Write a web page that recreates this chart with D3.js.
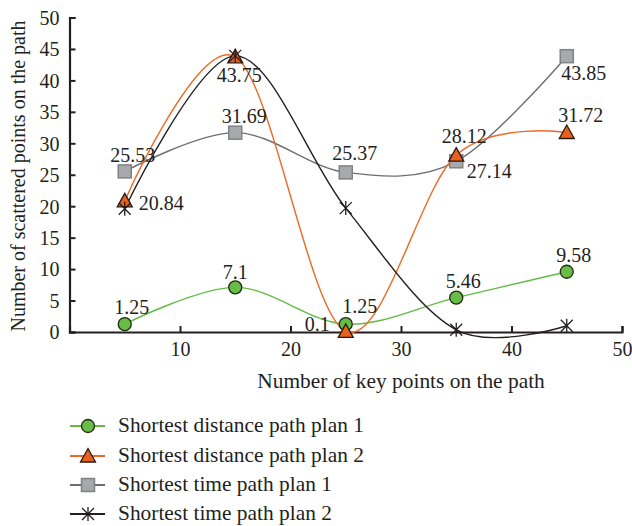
<!DOCTYPE html>
<html>
<head>
<meta charset="utf-8">
<script src="https://cdn.jsdelivr.net/npm/d3@7/dist/d3.min.js"></script>
<style>
  html, body { margin: 0; padding: 0; background: #fff; }
  svg { display: block; }
  text { font-family: "Liberation Serif", "Times New Roman", serif; fill: #231f20; }
</style>
</head>
<body>
<svg id="chart" width="632" height="526"></svg>
<script>
// Key-point counts along the x axis
const keyPoints = [5, 15, 25, 35, 45];

// Scattered points per plan
const distancePlan1 = [1.25, 7.1, 1.25, 5.46, 9.58];
const distancePlan2 = [20.84, 43.75, 0.1, 28.12, 31.72];
const timePlan1 = [25.53, 31.69, 25.37, 27.14, 43.85];
const timePlan2 = [19.6, 43.9, 19.7, 0.35, 1.0];

const seriesNames = [
  "Shortest distance path plan 1",
  "Shortest distance path plan 2",
  "Shortest time path plan 1",
  "Shortest time path plan 2"
];

const xTicks = [10, 20, 30, 40, 50];
const yTicks = [0, 5, 10, 15, 20, 25, 30, 35, 40, 45, 50];

// Which data points carry a value label, and where it sits: [dx, dy, anchor]
const labelPlacement = [
  [[7, -10, "middle"], [0, -8, "middle"], [14, -11, "middle"], [7, -10, "middle"], [7, -10, "middle"]],
  [[14, 9, "start"], [4, 25, "middle"], [-16, 0, "end"], [8, -12, "middle"], [14, -10, "middle"]],
  [[8, -9, "middle"], [9, -10, "middle"], [9, -12, "middle"], [33, 17, "middle"], [17, 24, "middle"]],
  null
];

const styles = [
  { line: "#62bb46", fill: "#67bd45", stroke: "#1f2a12", marker: "circle" },
  { line: "#ec6a26", fill: "#e8601c", stroke: "#2a1a10", marker: "triangle" },
  { line: "#6d6e71", fill: "#a7a9ac", stroke: "#808285", marker: "square" },
  { line: "#231f20", fill: "none", stroke: "#231f20", marker: "star" }
];

const allSeries = [distancePlan1, distancePlan2, timePlan1, timePlan2];

const svg = d3.select("#chart");
const x = d3.scaleLinear().domain([0, 50]).range([69.5, 622]);
const y = d3.scaleLinear().domain([0, 50]).range([332, 17.5]);

const numSize = 20;
const titleSize = 21.4;

// Axes
const xAxis = d3.axisBottom(x).tickValues(xTicks).tickSize(-6).tickPadding(10).tickFormat(d3.format("d"));
const yAxis = d3.axisLeft(y).tickValues(yTicks).tickSize(-6).tickPadding(10).tickFormat(d3.format("d"));

const gx = svg.append("g").attr("transform", `translate(0,${y(0)})`).call(xAxis);
const gy = svg.append("g").attr("transform", `translate(${x(0)},0)`).call(yAxis);
[gx, gy].forEach(g => {
  g.select(".domain").attr("stroke", "#231f20").attr("stroke-width", 2.2);
  g.selectAll(".tick line").attr("stroke", "#231f20").attr("stroke-width", 2);
  g.selectAll(".tick text").attr("font-size", numSize).attr("fill", "#231f20")
    .attr("font-family", "'Liberation Serif', serif");
});
gx.selectAll(".tick text").attr("dy", "0.71em");
gy.selectAll(".tick text").attr("dy", "0.34em");

// Axis titles
svg.append("text")
  .attr("x", 401).attr("y", 388)
  .attr("text-anchor", "middle")
  .attr("font-size", titleSize)
  .text("Number of key points on the path");

svg.append("text")
  .attr("transform", "translate(25,176) rotate(-90)")
  .attr("text-anchor", "middle")
  .attr("font-size", 20)
  .text("Number of scattered points on the path");

// Marker drawing helpers
function drawMarker(g, kind, cx, cy, st) {
  if (kind === "circle") {
    g.append("circle").attr("cx", cx).attr("cy", cy).attr("r", 6.5)
      .attr("fill", st.fill).attr("stroke", st.stroke).attr("stroke-width", 1.3);
  } else if (kind === "triangle") {
    const s = 7.5;
    g.append("path")
      .attr("d", `M${cx},${cy - s}L${cx + s},${cy + s * 0.8}L${cx - s},${cy + s * 0.8}Z`)
      .attr("fill", st.fill).attr("stroke", st.stroke).attr("stroke-width", 1.3);
  } else if (kind === "square") {
    g.append("rect").attr("x", cx - 6.5).attr("y", cy - 6.5).attr("width", 13).attr("height", 13)
      .attr("fill", st.fill).attr("stroke", st.stroke).attr("stroke-width", 1.5);
  } else if (kind === "star") {
    const r = 6;
    g.append("path")
      .attr("d", `M${cx - r},${cy - r}L${cx + r},${cy + r}M${cx - r},${cy + r}L${cx + r},${cy - r}M${cx},${cy - r - 1}L${cx},${cy + r + 1}`)
      .attr("stroke", st.stroke).attr("stroke-width", 1.3).attr("fill", "none");
  }
}

const line = d3.line()
  .x(d => x(d[0]))
  .y(d => y(d[1]))
  .curve(d3.curveCatmullRom.alpha(0));

// Lines first (order so that black and orange sit on top)
const drawOrder = [0, 2, 1, 3];
drawOrder.forEach(i => {
  const pts = keyPoints.map((k, j) => [k, allSeries[i][j]]);
  svg.append("path")
    .datum(pts)
    .attr("d", line)
    .attr("fill", "none")
    .attr("stroke", styles[i].line)
    .attr("stroke-width", 1.4);
});

// Markers
drawOrder.forEach(i => {
  const g = svg.append("g");
  keyPoints.forEach((k, j) => drawMarker(g, styles[i].marker, x(k), y(allSeries[i][j]), styles[i]));
});

// Value labels
allSeries.forEach((vals, i) => {
  const place = labelPlacement[i];
  if (!place) return;
  keyPoints.forEach((k, j) => {
    const [dx, dy, anchor] = place[j];
    svg.append("text")
      .attr("x", x(k) + dx)
      .attr("y", y(vals[j]) + dy)
      .attr("text-anchor", anchor)
      .attr("font-size", numSize)
      .text(vals[j]);
  });
});

// Legend
const legendRows = [426, 456, 485, 514];
seriesNames.forEach((name, i) => {
  const g = svg.append("g");
  const ly = legendRows[i];
  g.append("line").attr("x1", 70).attr("x2", 105).attr("y1", ly).attr("y2", ly)
    .attr("stroke", styles[i].line).attr("stroke-width", 2);
  drawMarker(g, styles[i].marker, 88, ly, styles[i]);
  g.append("text").attr("x", 118).attr("y", ly + 5.5)
    .attr("font-size", titleSize).text(name);
});
</script>
</body>
</html>
